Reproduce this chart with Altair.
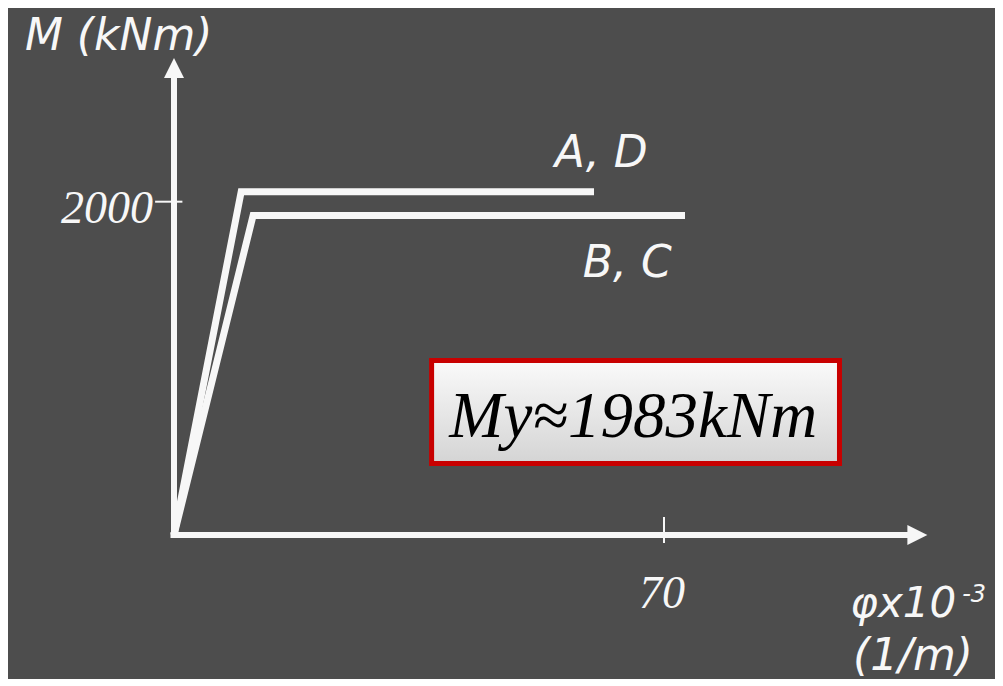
import altair as alt
import pandas as pd

# ---- chart values ----
series_names = ["A, D", "B, C"]
phi_AD = [0, 9.6, 60]        # curvature x10^-3 (1/m)
M_AD = [0, 2060, 2060]       # moment kNm
phi_BC = [0, 11.3, 73]
M_BC = [0, 1917, 1917]

y_tick_values = [2000]
y_tick_labels = ["2000"]
x_tick_values = [70]
x_tick_labels = ["70"]

annotation_text = "My≈1983kNm"
y_title = "M (kNm)"
x_title_1 = "φx10"
x_title_sup = "-3"
x_title_2 = "(1/m)"

BG = "#4d4d4d"
FG = "#f7f7f7"

W, H = 987, 670
xs = alt.Scale(domain=[-23.714, 117.286], nice=False, zero=False)
ys = alt.Scale(domain=[-858.1, 3162.3], nice=False, zero=False)

rows = []
for name, xsr, ysr in [(series_names[0], phi_AD, M_AD), (series_names[1], phi_BC, M_BC)]:
    for i, (a, b) in enumerate(zip(xsr, ysr)):
        rows.append({"series": name, "phi": a, "M": b, "order": i})
curves = pd.DataFrame(rows)

X = lambda f: alt.X(f, type="quantitative", scale=xs, axis=None)
Y = lambda f: alt.Y(f, type="quantitative", scale=ys, axis=None)

# axes drawn as rules
xaxis = alt.Chart(pd.DataFrame({"x0": [-0.5], "x1": [105.2], "y": [0]})).mark_rule(
    color=FG, strokeWidth=6, strokeCap="butt").encode(x=X("x0"), x2="x1", y=Y("y"))
yaxis = alt.Chart(pd.DataFrame({"x": [0], "y0": [-18], "y1": [2745]})).mark_rule(
    color=FG, strokeWidth=6, strokeCap="butt").encode(x=X("x"), y=Y("y0"), y2="y1")

x_arrow = alt.Chart(pd.DataFrame({"x": [106.2], "y": [0]})).mark_point(
    shape="M-1,-1L1,0L-1,1Z", filled=True, size=400, color=FG, opacity=1, strokeWidth=0
).encode(x=X("x"), y=Y("y"))
y_arrow = alt.Chart(pd.DataFrame({"x": [0], "y": [2802]})).mark_point(
    shape="M0,-1L1,1L-1,1Z", filled=True, size=400, color=FG, opacity=1, strokeWidth=0
).encode(x=X("x"), y=Y("y"))

ytick = alt.Chart(pd.DataFrame({"y": y_tick_values, "x0": [-2.7], "x1": [1.2]})).mark_rule(
    color=FG, strokeWidth=2).encode(x=X("x0"), x2="x1", y=Y("y"))
xtick = alt.Chart(pd.DataFrame({"x": x_tick_values, "y0": [-48], "y1": [108]})).mark_rule(
    color=FG, strokeWidth=2).encode(x=X("x"), y=Y("y0"), y2="y1")

ylab = alt.Chart(pd.DataFrame({"y": y_tick_values, "t": y_tick_labels, "x": [-3.0]})).mark_text(
    font="Liberation Serif", fontStyle="italic", fontSize=46, color=FG, align="right",
    baseline="alphabetic", dy=21).encode(x=X("x"), y=Y("y"), text="t:N")
xlab = alt.Chart(pd.DataFrame({"x": x_tick_values, "t": x_tick_labels, "y": [-438]})).mark_text(
    font="Liberation Serif", fontStyle="italic", fontSize=46, color=FG, align="center",
    baseline="alphabetic", dx=-2).encode(x=X("x"), y=Y("y"), text="t:N")

lines = alt.Chart(curves).mark_line(
    color=FG, strokeWidth=7, strokeJoin="miter", strokeCap="butt"
).encode(x=X("phi"), y=Y("M"), detail="series:N", order="order:Q")

sans = dict(font="DejaVu Sans", fontStyle="italic", color=FG, baseline="alphabetic", align="left")
texts = pd.DataFrame({
    "t": [y_title, series_names[0], series_names[1], x_title_2],
    "x": [-21.3, 54.4, 58.4, 97.0],
    "y": [2910, 2208, 1548, -810],
})
label_text = alt.Chart(texts).mark_text(fontSize=44, **sans).encode(x=X("x"), y=Y("y"), text="t:N")
phi_text = alt.Chart(pd.DataFrame({"t": [x_title_1], "x": [96.6], "y": [-492]})).mark_text(
    fontSize=42, **sans).encode(x=X("x"), y=Y("y"), text="t:N")
sup_text = alt.Chart(pd.DataFrame({"t": [x_title_sup], "x": [112.6], "y": [-402]})).mark_text(
    fontSize=24, **sans).encode(x=X("x"), y=Y("y"), text="t:N")

box = alt.Chart(pd.DataFrame({"x0": [36.8], "x1": [95.07], "y0": [1047], "y1": [429]})).mark_rect(
    fill=alt.Gradient(gradient="linear", x1=0, y1=0, x2=0, y2=1,
                      stops=[alt.GradientStop(offset=0, color="#fafafa"),
                             alt.GradientStop(offset=1, color="#d4d4d4")]),
    stroke="#c80000", strokeWidth=5
).encode(x=X("x0"), x2="x1", y=Y("y0"), y2="y1")
box_text = alt.Chart(pd.DataFrame({"t": [annotation_text], "x": [65.6], "y": [588]})).mark_text(
    font="Liberation Serif", fontStyle="italic", fontSize=65, color="#000000",
    align="center", baseline="alphabetic").encode(x=X("x"), y=Y("y"), text="t:N")

chart = alt.layer(
    lines, xaxis, yaxis, x_arrow, y_arrow, ytick, xtick, ylab, xlab,
    label_text, phi_text, sup_text, box, box_text
).properties(width=W, height=H, padding=0, background=BG).configure_view(stroke=None)

chart.save("out.html", embed_options={"renderer": "svg", "actions": False})
